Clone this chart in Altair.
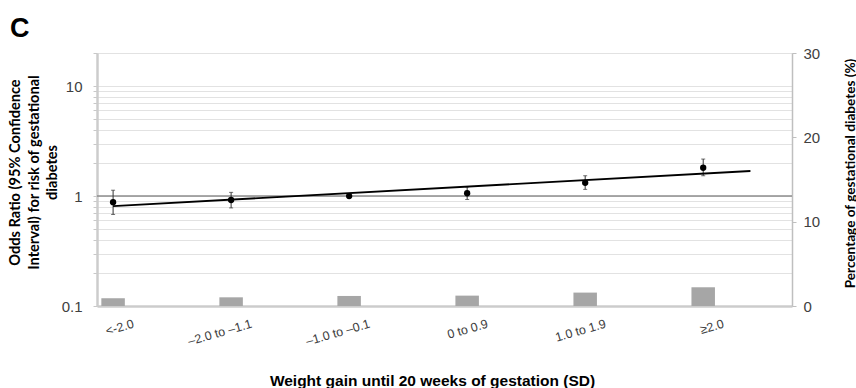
import json
import altair as alt
import pandas as pd

# ---- data ----
categories = ["<-2.0", "–2.0 to –1.1", "–1.0 to –0.1", "0 to 0.9", "1.0 to 1.9", "≥2.0"]
cat_index = [0, 1, 2, 3, 4, 5]
odds_ratio = [0.88, 0.92, 1.00, 1.06, 1.32, 1.81]
ci_low = [0.68, 0.78, 0.96, 0.93, 1.15, 1.53]
ci_high = [1.13, 1.08, 1.04, 1.21, 1.53, 2.17]
pct_gdm = [0.92, 1.03, 1.19, 1.23, 1.59, 2.22]
trend_x = [0.0, 5.4]
trend_or = [0.81, 1.69]
ref_or = [1]
grid_values = [0.1, 0.2, 0.3, 0.4, 0.5, 0.6, 0.7, 0.8, 0.9,
               1, 2, 3, 4, 5, 6, 7, 8, 9, 10, 20]

df = pd.DataFrame({"i": cat_index, "cat": categories, "or": odds_ratio,
                   "lo": ci_low, "hi": ci_high, "pct": pct_gdm})
trend = pd.DataFrame({"i": trend_x, "or": trend_or})
ref = pd.DataFrame({"or": ref_or})
panel = pd.DataFrame({"t": ["C"]})

FONT = "Liberation Sans"
TFONT = "Lato"

x_scale = alt.Scale(domain=[-0.094, 5.71], nice=False, zero=False)
x_axis = alt.Axis(
    values=cat_index, labelExpr=json.dumps(categories, ensure_ascii=False) + "[round(datum.value)]",
    grid=False, ticks=False, tickSize=0, domainColor="#cccccc", domainWidth=2.5,
    labelAngle=344, labelAlign="right", labelBaseline="middle", labelPadding=17,
    labelOffset=20, labelFont=FONT, labelFontSize=12.5, labelColor="#404040",
    title="Weight gain until 20 weeks of gestation (SD)", titleFont=FONT,
    titleFontSize=15.5, titleFontWeight="bold", titleColor="#000000",
    titleX=335, titleY=79, titleAlign="center", titleBaseline="alphabetic",
    labelOverlap=False, labelFlush=False,
)
x_enc = alt.X("i:Q", scale=x_scale, axis=x_axis)

y_scale = alt.Scale(type="log", domain=[0.1, 20], nice=False)
y_axis = alt.Axis(
    orient="left", values=grid_values,
    labelExpr="datum.value == 0.1 ? '0.1' : datum.value == 1 ? '1' : datum.value == 10 ? '10' : ''",
    grid=True, gridColor="#e2e2e2", gridWidth=1,
    ticks=True, tickSize=4, tickColor="#c8c8c8",
    domainColor="#cccccc", domainWidth=2.5,
    labelFont=FONT, labelFontSize=15, labelColor="#404040", labelPadding=11,
    labelOverlap=False, labelFlush=False,
    title=["Odds Ratio (95% Confidence", "Interval) for risk of gestational", "diabetes"],
    titleFont=TFONT, titleFontSize=14.6, titleFontWeight="bold", titleColor="#000000",
    titleAngle=270, titleX=-77.5, titleY=119, titleAlign="center",
    titleBaseline="alphabetic", titleLineHeight=18.5,
)
y_or = alt.Y("or:Q", scale=y_scale, axis=y_axis)

ref_line = alt.Chart(ref).mark_rule(color="#8c8c8c", strokeWidth=1.5).encode(y=y_or)

err = alt.Chart(df).mark_rule(color="#333333", strokeWidth=1).encode(
    x=x_enc, y=alt.Y("lo:Q", scale=y_scale, axis=y_axis), y2="hi:Q")
cap_lo = alt.Chart(df).mark_tick(color="#333333", size=4, thickness=1, orient="horizontal").encode(
    x=x_enc, y=alt.Y("lo:Q", scale=y_scale, axis=y_axis))
cap_hi = alt.Chart(df).mark_tick(color="#333333", size=4, thickness=1, orient="horizontal").encode(
    x=x_enc, y=alt.Y("hi:Q", scale=y_scale, axis=y_axis))
pts = alt.Chart(df).mark_point(filled=True, color="#000000", size=40, opacity=1).encode(
    x=x_enc, y=y_or)
trend_line = alt.Chart(trend).mark_line(color="#000000", strokeWidth=1.8).encode(
    x=x_enc, y=y_or)
label_c = alt.Chart(panel).mark_text(
    font=FONT, fontSize=27, fontWeight="bold", align="left", baseline="alphabetic",
    color="#000000").encode(text="t:N", x=alt.value(-87), y=alt.value(-16))

or_layer = alt.layer(ref_line, err, cap_lo, cap_hi, trend_line, pts, label_c)

bars = alt.Chart(df).mark_bar(color="#a6a6a6", size=23.5).encode(
    x=x_enc,
    y=alt.Y("pct:Q", scale=alt.Scale(domain=[0, 30], nice=False, zero=True),
            axis=alt.Axis(
                orient="right", values=[0, 10, 20, 30], grid=False,
                ticks=True, tickSize=4, tickColor="#bfbfbf",
                domainColor="#bfbfbf", domainWidth=1.5,
                labelFont=FONT, labelFontSize=15, labelColor="#404040", labelPadding=7,
                labelOverlap=False, labelFlush=False,
                title="Percentage of gestational diabetes (%)", titleFont=TFONT,
                titleFontSize=13.6, titleFontWeight="bold", titleColor="#000000",
                titleAngle=270, titleX=62, titleY=120, titleAlign="center",
                titleBaseline="alphabetic")))

chart = alt.layer(bars, or_layer).resolve_scale(y="independent").properties(
    width=695, height=253,
    autosize=alt.AutoSizeParams(type="none"),
    padding={"left": 97, "top": 53, "right": 64, "bottom": 82},
).configure_view(stroke=None).configure(background="white")

chart.save("out.html", embed_options={"renderer": "svg", "actions": False})
